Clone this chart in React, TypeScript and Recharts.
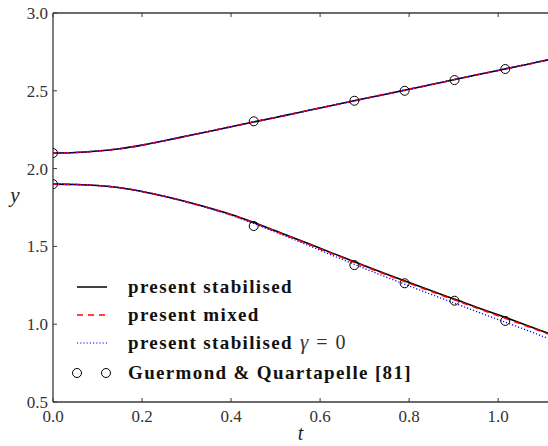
import React from 'react';
import { LineChart, Line, XAxis, YAxis, Legend } from 'recharts';

const lineT = [0, 0.05, 0.1, 0.15, 0.2, 0.25, 0.3, 0.35, 0.4, 0.45, 0.5, 0.55, 0.6, 0.65, 0.7, 0.75, 0.8, 0.85, 0.9, 0.95, 1.0, 1.05, 1.1, 1.112];

const upperStabilised = [2.100, 2.103, 2.113, 2.128, 2.151, 2.179, 2.209, 2.239, 2.269, 2.299, 2.329, 2.359, 2.390, 2.420, 2.450, 2.480, 2.510, 2.540, 2.571, 2.601, 2.631, 2.661, 2.691, 2.699];
const upperMixed = [2.100, 2.103, 2.113, 2.128, 2.151, 2.179, 2.209, 2.239, 2.269, 2.299, 2.329, 2.359, 2.390, 2.420, 2.450, 2.480, 2.510, 2.540, 2.571, 2.601, 2.631, 2.661, 2.691, 2.699];
const upperGamma0 = [2.100, 2.103, 2.113, 2.128, 2.151, 2.179, 2.209, 2.239, 2.269, 2.299, 2.329, 2.359, 2.390, 2.420, 2.450, 2.480, 2.510, 2.541, 2.572, 2.602, 2.632, 2.662, 2.692, 2.700];

const lowerStabilised = [1.900, 1.898, 1.891, 1.877, 1.853, 1.822, 1.787, 1.748, 1.705, 1.655, 1.600, 1.545, 1.488, 1.432, 1.376, 1.321, 1.268, 1.215, 1.163, 1.111, 1.060, 1.008, 0.955, 0.942];
const lowerMixed = [1.900, 1.898, 1.891, 1.877, 1.853, 1.822, 1.786, 1.747, 1.703, 1.653, 1.597, 1.542, 1.484, 1.428, 1.372, 1.317, 1.263, 1.210, 1.158, 1.106, 1.055, 1.003, 0.950, 0.937];
const lowerGamma0 = [1.900, 1.898, 1.891, 1.877, 1.853, 1.821, 1.785, 1.745, 1.700, 1.648, 1.591, 1.534, 1.475, 1.416, 1.358, 1.301, 1.246, 1.191, 1.137, 1.083, 1.030, 0.977, 0.922, 0.909];

const refT = [0, 0.451, 0.677, 0.79, 0.902, 1.016];
const refUpper = [2.100, 2.304, 2.436, 2.500, 2.569, 2.640];
const refLower = [1.900, 1.631, 1.380, 1.263, 1.151, 1.021];

const xTicks = [0, 0.2, 0.4, 0.6, 0.8, 1.0];
const yTicks = [0.5, 1.0, 1.5, 2.0, 2.5, 3.0];

const legendLabels = ['present stabilised', 'present mixed', 'present stabilised', 'Guermond & Quartapelle [81]'];

const data = lineT.map((t, i) => ({
  t,
  us: upperStabilised[i],
  um: upperMixed[i],
  ug: upperGamma0[i],
  ls: lowerStabilised[i],
  lm: lowerMixed[i],
  lg: lowerGamma0[i],
}));

const refData = refT.map((t, i) => ({ t, ru: refUpper[i], rl: refLower[i] }));

const SERIF = 'Liberation Serif';
const AXIS = '#3a3a3a';

const BottomTick = (props: any) => {
  const { x, y, payload } = props;
  return (
    <g>
      <line x1={x} x2={x} y1={y} y2={y - 4} stroke={AXIS} strokeWidth={1} />
      <text x={x} y={y + 20} textAnchor="middle" style={{ fontFamily: SERIF }} fontSize={17} fill="#333">
        {Number(payload.value).toFixed(1)}
      </text>
    </g>
  );
};

const TopTick = (props: any) => {
  const { x, y } = props;
  return <line x1={x} x2={x} y1={y} y2={y + 4} stroke={AXIS} strokeWidth={1} />;
};

const LeftTick = (props: any) => {
  const { x, y, payload } = props;
  return (
    <g>
      <line x1={x} x2={x + 4} y1={y} y2={y} stroke={AXIS} strokeWidth={1} />
      <text x={x - 5} y={y + 6} textAnchor="end" style={{ fontFamily: SERIF }} fontSize={17} fill="#333">
        {Number(payload.value).toFixed(1)}
      </text>
    </g>
  );
};

const legendText = { style: { fontFamily: SERIF, letterSpacing: '1.35px' }, fontSize: 19, fontWeight: 700, fill: '#111' } as const;

const LegendContent = () => {
  const rows = [287, 315, 343, 373];
  return (
    <svg width={548} height={446} style={{ position: 'absolute', left: 0, top: 0, pointerEvents: 'none' }}>
      <line x1={77} x2={107} y1={rows[0]} y2={rows[0]} stroke="#000" strokeWidth={1.5} />
      <line x1={77} x2={107} y1={rows[1]} y2={rows[1]} stroke="#ff0000" strokeWidth={1.5} strokeDasharray="6 5" />
      <line x1={77} x2={107} y1={rows[2]} y2={rows[2]} stroke="#0000ff" strokeWidth={1.2} strokeDasharray="1.2 2" />
      <circle cx={77} cy={rows[3]} r={4.5} fill="none" stroke="#000" strokeWidth={1} />
      <circle cx={106} cy={rows[3]} r={4.5} fill="none" stroke="#000" strokeWidth={1} />
      <text x={128} y={rows[0] + 6} {...legendText}>{legendLabels[0]}</text>
      <text x={128} y={rows[1] + 6} {...legendText}>{legendLabels[1]}</text>
      <text x={128} y={rows[2] + 6} {...legendText}>
        {legendLabels[2]}
        <tspan fontWeight={400} fill="#333" fontSize={21} style={{ letterSpacing: '0px', fontStyle: 'italic' }} dx={7}>γ</tspan>
        <tspan fontWeight={400} fill="#333" fontSize={20} style={{ letterSpacing: '0px' }} dx={8}>=</tspan>
        <tspan fontWeight={400} fill="#333" fontSize={20} style={{ letterSpacing: '0px' }} dx={8}>0</tspan>
      </text>
      <text x={128} y={rows[3] + 6} {...legendText}>{legendLabels[3]}</text>
    </svg>
  );
};

export default function App() {
  return (
    <div style={{ position: 'absolute', left: 0, top: 0, width: 548, height: 446, background: '#fff', fontFamily: SERIF }}>
      <LineChart width={548} height={446} margin={{ top: 0, right: 0, bottom: 0, left: 0 }} style={{ fontFamily: SERIF }}>
        <XAxis
          xAxisId="top"
          orientation="top"
          type="number"
          dataKey="t"
          domain={[0, 1.112]}
          ticks={xTicks}
          height={13}
          tickSize={0}
          tickMargin={0}
          tickLine={false}
          axisLine={{ stroke: AXIS, strokeWidth: 1.3 }}
          tick={<TopTick />}
          allowDataOverflow
        />
        <XAxis
          type="number"
          dataKey="t"
          domain={[0, 1.112]}
          ticks={xTicks}
          height={44}
          tickSize={0}
          tickMargin={0}
          tickLine={false}
          axisLine={{ stroke: AXIS, strokeWidth: 1.3 }}
          tick={<BottomTick />}
          allowDataOverflow
          label={{
            content: (p: any) => {
              const vb = p.viewBox || { x: 53, y: 402, width: 495 };
              return (
                <text x={vb.x + vb.width / 2} y={vb.y + 38} textAnchor="middle" style={{ fontFamily: SERIF, fontStyle: 'italic' }} fontSize={20} fill="#222">
                  t
                </text>
              );
            },
          }}
        />
        <YAxis
          type="number"
          domain={[0.5, 3.0]}
          ticks={yTicks}
          width={53}
          tickSize={0}
          tickMargin={0}
          tickLine={false}
          axisLine={{ stroke: AXIS, strokeWidth: 1.3 }}
          tick={<LeftTick />}
          allowDataOverflow
          label={{
            content: () => (
              <text x={15} y={202} textAnchor="middle" style={{ fontFamily: SERIF, fontStyle: 'italic' }} fontSize={21} fill="#222">
                y
              </text>
            ),
          }}
        />
        <Line data={data} dataKey="us" type="monotone" stroke="#000" strokeWidth={1.6} dot={false} isAnimationActive={false} legendType="none" />
        <Line data={data} dataKey="ls" type="monotone" stroke="#000" strokeWidth={1.6} dot={false} isAnimationActive={false} legendType="none" />
        <Line data={data} dataKey="um" type="monotone" stroke="#ff0000" strokeWidth={1.6} strokeDasharray="6 5" dot={false} isAnimationActive={false} legendType="none" />
        <Line data={data} dataKey="lm" type="monotone" stroke="#ff0000" strokeWidth={1.6} strokeDasharray="6 5" dot={false} isAnimationActive={false} legendType="none" />
        <Line data={data} dataKey="ug" type="monotone" stroke="#0000ff" strokeWidth={1.3} strokeDasharray="1.2 2" dot={false} isAnimationActive={false} legendType="none" />
        <Line data={data} dataKey="lg" type="monotone" stroke="#0000ff" strokeWidth={1.3} strokeDasharray="1.2 2" dot={false} isAnimationActive={false} legendType="none" />
        <Line data={refData} dataKey="ru" stroke="none" dot={{ r: 4.5, stroke: '#000', strokeWidth: 1, fill: 'none' }} isAnimationActive={false} legendType="none" />
        <Line data={refData} dataKey="rl" stroke="none" dot={{ r: 4.5, stroke: '#000', strokeWidth: 1, fill: 'none' }} isAnimationActive={false} legendType="none" />
        <Legend
          layout="horizontal"
          verticalAlign="middle"
          align="center"
          content={<LegendContent />}
          wrapperStyle={{ left: 0, top: 0, width: 548, height: 446, pointerEvents: 'none' }}
        />
      </LineChart>
    </div>
  );
}
